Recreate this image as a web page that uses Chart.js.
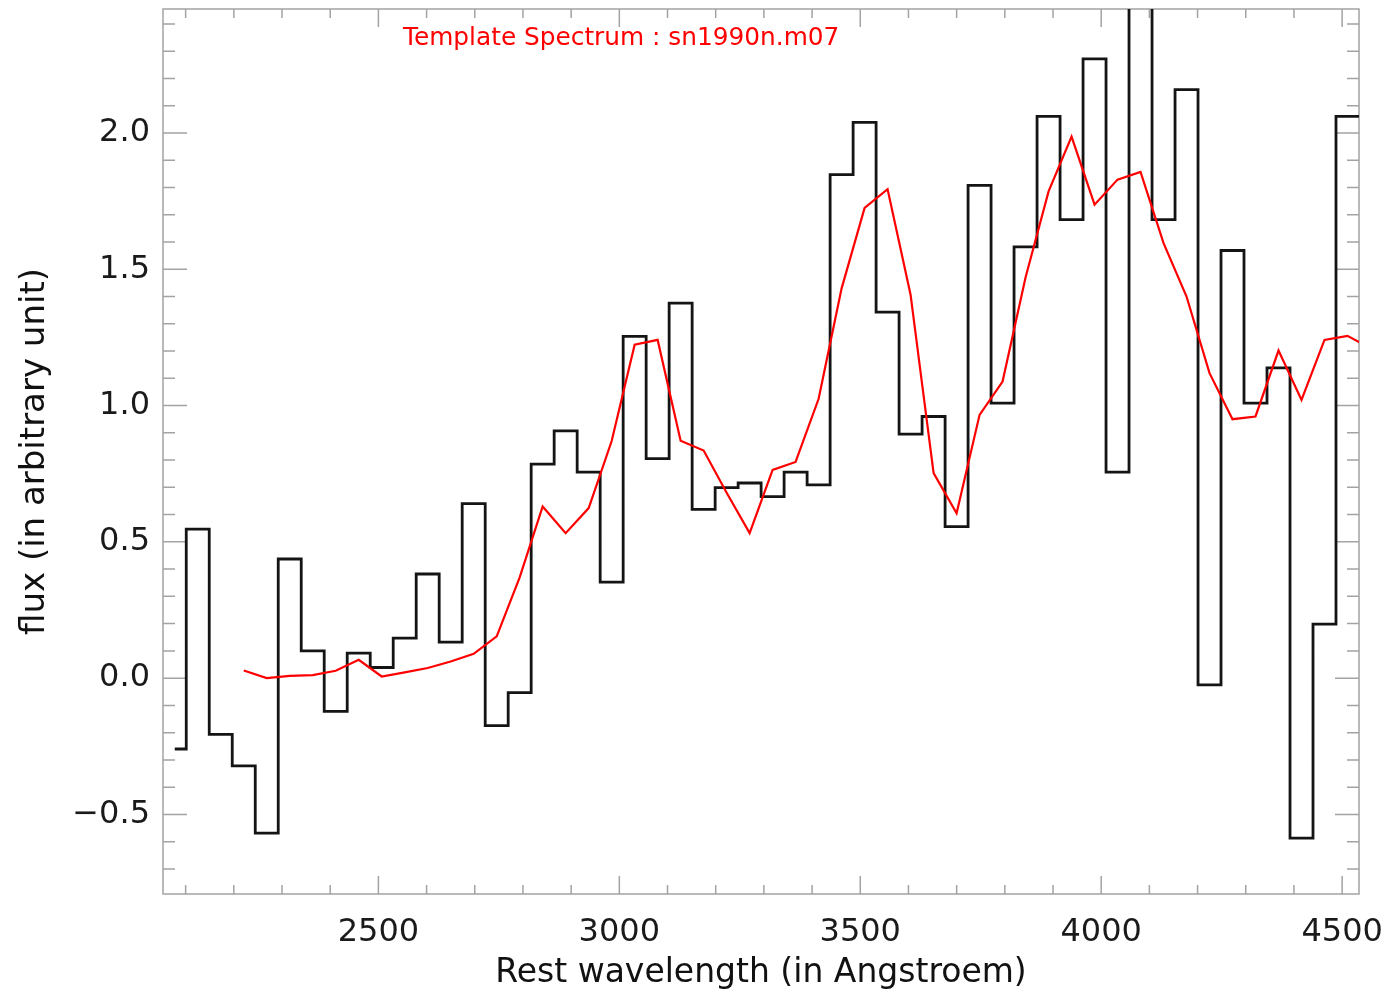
<!DOCTYPE html>
<html>
<head>
<meta charset="utf-8">
<script src="https://cdn.jsdelivr.net/npm/chart.js@4.4.1/dist/chart.umd.min.js"></script>
<style>
  html, body { margin: 0; padding: 0; background: #ffffff; }
  #wrap { width: 1388px; height: 993px; }
</style>
</head>
<body>
<div id="wrap"><canvas id="c" width="1388" height="993"></canvas></div>
<script>
// ---- Data ----
const observedWave = [
  2077.4, 2125.1, 2172.8, 2220.6, 2268.3, 2316.0, 2363.7, 2411.4, 2459.2, 2506.9,
  2554.6, 2602.3, 2650.0, 2697.8, 2745.5, 2793.2, 2840.9, 2888.6, 2936.4, 2984.1,
  3031.8, 3079.5, 3127.2, 3175.0, 3222.7, 3270.4, 3318.1, 3365.8, 3413.6, 3461.3,
  3509.0, 3556.7, 3604.4, 3652.2, 3699.9, 3747.6, 3795.3, 3843.0, 3890.8, 3938.5,
  3986.2, 4033.9, 4081.6, 4129.4, 4177.1, 4224.8, 4272.5, 4320.2, 4368.0, 4415.7,
  4463.4, 4511.1, 4558.8
];
const observedFlux = [
  -0.260, 0.547, -0.206, -0.322, -0.569, 0.437, 0.100, -0.122, 0.092, 0.039,
  0.147, 0.382, 0.132, 0.640, -0.174, -0.053, 0.785, 0.907, 0.756, 0.352,
  1.254, 0.805, 1.376, 0.619, 0.699, 0.716, 0.666, 0.756, 0.709, 1.847,
  2.039, 1.343, 0.895, 0.960, 0.556, 1.808, 1.009, 1.582, 2.061, 1.682,
  2.272, 0.756, 2.600, 1.682, 2.159, -0.025, 1.569, 1.009, 1.138, -0.587,
  0.198, 2.061, 2.061
];
const templateWave = [
  2220.6, 2268.3, 2316.0, 2363.7, 2411.4, 2459.2, 2506.9,
  2554.6, 2602.3, 2650.0, 2697.8, 2745.5, 2793.2, 2840.9, 2888.6, 2936.4, 2984.1,
  3031.8, 3079.5, 3127.2, 3175.0, 3222.7, 3270.4, 3318.1, 3365.8, 3413.6, 3461.3,
  3509.0, 3556.7, 3604.4, 3652.2, 3699.9, 3747.6, 3795.3, 3843.0, 3890.8, 3938.5,
  3986.2, 4033.9, 4081.6, 4129.4, 4177.1, 4224.8, 4272.5, 4320.2, 4368.0, 4415.7,
  4463.4, 4511.1, 4558.8
];
const templateFlux = [
  0.028, 0.000, 0.008, 0.011, 0.027, 0.067, 0.006,
  0.021, 0.037, 0.061, 0.089, 0.153, 0.370, 0.630, 0.532, 0.624, 0.870,
  1.223, 1.241, 0.871, 0.835, 0.680, 0.532, 0.764, 0.793, 1.025, 1.430,
  1.725, 1.794, 1.407, 0.752, 0.605, 0.966, 1.088, 1.470, 1.786, 1.987,
  1.737, 1.829, 1.857, 1.596, 1.400, 1.119, 0.950, 0.960, 1.202, 1.021,
  1.241, 1.256, 1.210
];
const xTickValues = [2500, 3000, 3500, 4000, 4500];
const xTickLabels = ['2500', '3000', '3500', '4000', '4500'];
const yTickValues = [-0.5, 0.0, 0.5, 1.0, 1.5, 2.0];
const yTickLabels = ['\u22120.5', '0.0', '0.5', '1.0', '1.5', '2.0'];
const templateLabel = 'Template Spectrum : sn1990n.m07';
const xTitle = 'Rest wavelength (in Angstroem)';
const yTitle = 'flux (in arbitrary unit)';

// ---- Styling / plugins ----
const FONT = "'DejaVu Sans', sans-serif";
const frameColor = '#a3a3a3';

const frameTicks = {
  id: 'frameTicks',
  beforeDatasetsDraw(chart) {
    const { ctx, chartArea: a, scales: { x, y } } = chart;
    ctx.save();
    ctx.strokeStyle = frameColor;
    ctx.lineWidth = 1.5;
    ctx.strokeRect(a.left, a.top, a.right - a.left, a.bottom - a.top);
    ctx.beginPath();
    for (let v = 2100; v <= 4500; v += 100) {
      const px = x.getPixelForValue(v);
      const len = (v % 500 === 0) ? 18 : 9;
      ctx.moveTo(px, a.bottom); ctx.lineTo(px, a.bottom - len);
      ctx.moveTo(px, a.top); ctx.lineTo(px, a.top + len);
    }
    for (let k = -7; k <= 24; k++) {
      const py = y.getPixelForValue(k / 10);
      const len = (k % 5 === 0) ? 24 : 12;
      ctx.moveTo(a.left, py); ctx.lineTo(a.left + len, py);
      ctx.moveTo(a.right, py); ctx.lineTo(a.right - len, py);
    }
    ctx.stroke();
    ctx.restore();
  },
  afterDraw(chart) {
    const { ctx, chartArea: a } = chart;
    ctx.save();
    ctx.fillStyle = '#ff0000';
    ctx.font = "24.8px " + FONT;
    ctx.textAlign = 'left';
    ctx.textBaseline = 'alphabetic';
    ctx.fillText(templateLabel, a.left + 240, a.top + 36);
    ctx.restore();
  }
};

new Chart(document.getElementById('c'), {
  type: 'line',
  data: {
    datasets: [
      {
        label: 'template',
        data: templateWave.map((w, i) => ({ x: w, y: templateFlux[i] })),
        borderColor: '#ff0000',
        borderWidth: 2.2,
        pointRadius: 0,
        tension: 0,
        fill: false,
        clip: 0
      },
      {
        label: 'observed',
        data: observedWave.map((w, i) => ({ x: w, y: observedFlux[i] })),
        borderColor: '#141414',
        borderWidth: 2.8,
        pointRadius: 0,
        stepped: 'middle',
        fill: false,
        clip: 0
      }
    ]
  },
  options: {
    responsive: false,
    animation: false,
    devicePixelRatio: 1,
    layout: { padding: { top: 9, right: 29, left: 0, bottom: 0 } },
    plugins: { legend: { display: false }, tooltip: { enabled: false }, title: { display: false } },
    scales: {
      x: {
        type: 'linear',
        min: 2053,
        max: 4535,
        afterBuildTicks: s => { s.ticks = xTickValues.map(v => ({ value: v })); },
        afterFit: s => { s.height = 99; s.paddingLeft = 0; s.paddingRight = 0; },
        grid: { display: false, drawTicks: false },
        border: { display: false },
        ticks: {
          autoSkip: false, maxRotation: 0, padding: 19,
          color: '#1a1a1a',
          font: { family: FONT, size: 32 },
          callback: (v) => xTickLabels[xTickValues.indexOf(v)]
        },
        title: {
          display: true, text: xTitle, color: '#111111',
          font: { family: FONT, size: 33 },
          padding: { top: 0, bottom: 0 }
        }
      },
      y: {
        type: 'linear',
        min: -0.792,
        max: 2.455,
        afterBuildTicks: s => { s.ticks = yTickValues.map(v => ({ value: v })); },
        afterFit: s => { s.width = 163; s.paddingTop = 0; s.paddingBottom = 0; },
        grid: { display: false, drawTicks: false },
        border: { display: false },
        ticks: {
          autoSkip: false, padding: 13,
          color: '#1a1a1a',
          font: { family: FONT, size: 32 },
          callback: (v) => yTickLabels[yTickValues.indexOf(v)]
        },
        title: {
          display: true, text: yTitle, color: '#111111',
          font: { family: FONT, size: 34 },
          padding: { top: 15, bottom: 0 }
        }
      }
    }
  },
  plugins: [frameTicks]
});
</script>
</body>
</html>
